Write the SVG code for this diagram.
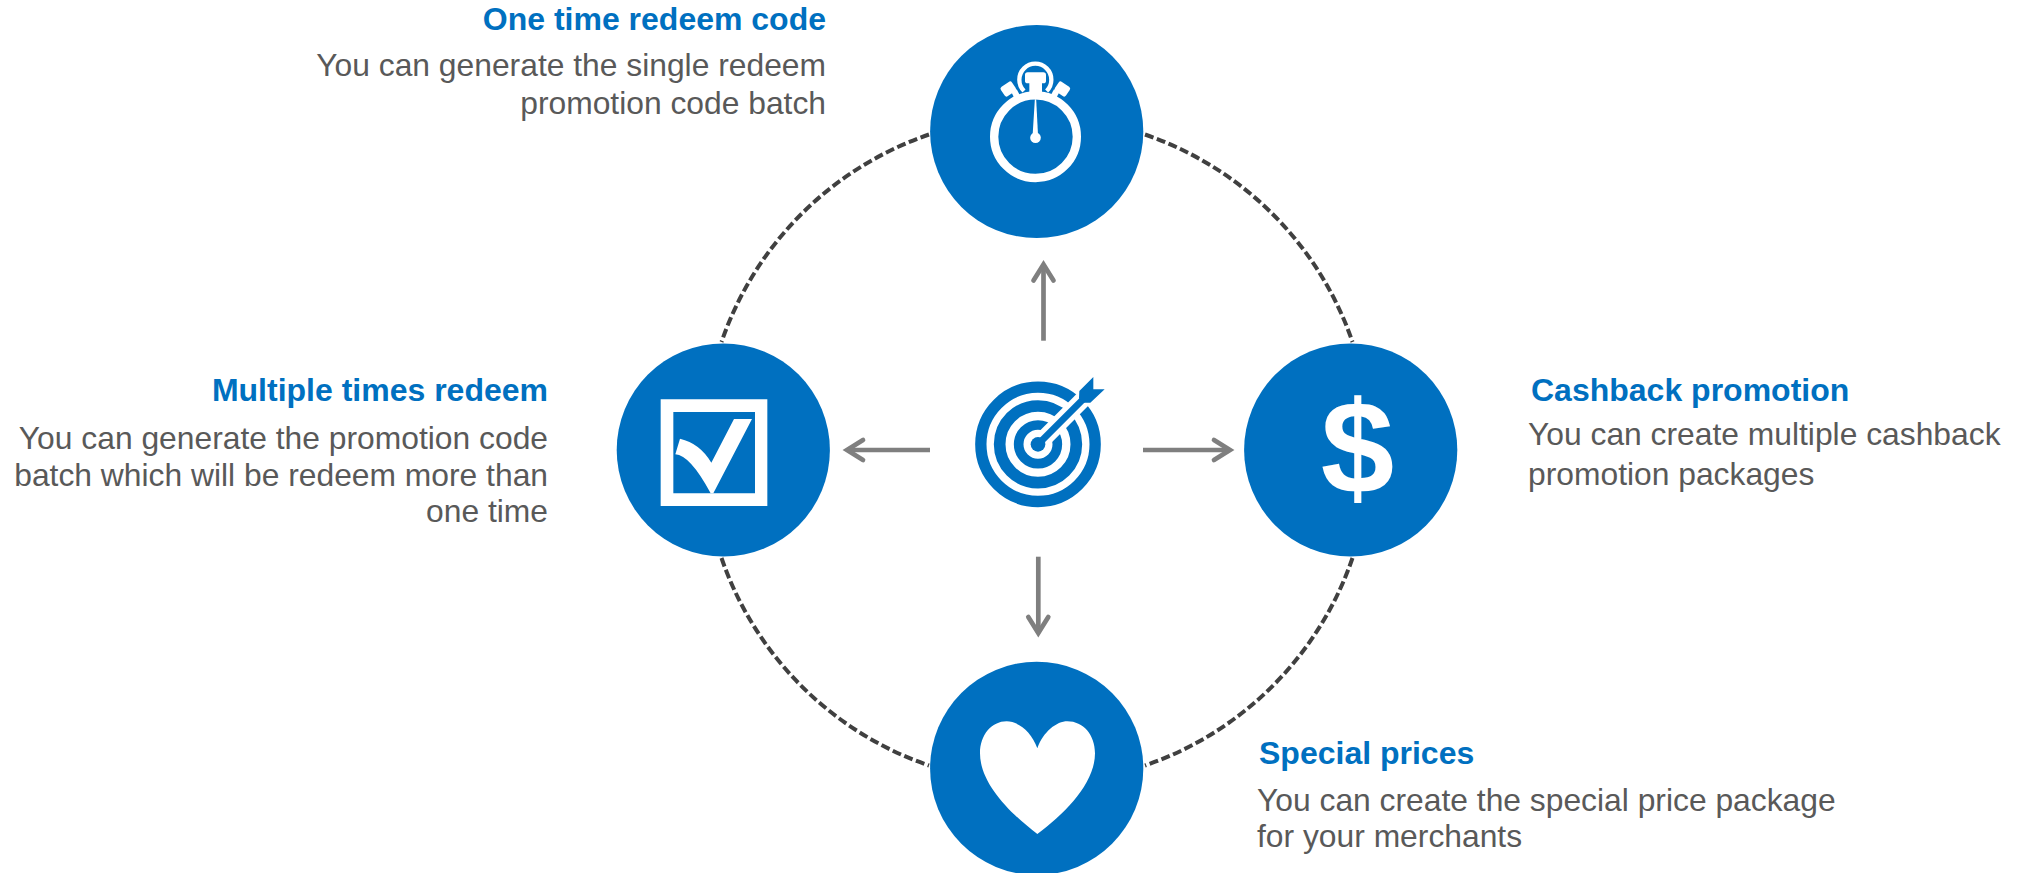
<svg xmlns="http://www.w3.org/2000/svg" width="2017" height="873" viewBox="0 0 2017 873">
<style>
.disc{fill:#0070c0}
.ico{fill:#fff}
.ring{fill:none;stroke:#404040;stroke-width:4;stroke-dasharray:9 3.6}
.arr{fill:none;stroke:#7f7f7f;stroke-width:4.7;marker-end:url(#head)}
.t{font-family:"Liberation Sans",Arial,sans-serif;font-size:31.8px}
.h{font-weight:700;fill:#0070c0;font-size:32px}
.b{fill:#595959}
.e{text-anchor:end}
</style>
<defs>
<marker id="head" markerUnits="userSpaceOnUse" orient="auto" overflow="visible" markerWidth="30" markerHeight="30" refX="0" refY="0">
<path d="M-16,-10 L0,0 L-16,10" fill="none" stroke="#7f7f7f" stroke-width="4.7" stroke-linecap="round" stroke-linejoin="miter"/>
</marker>
</defs>
<rect width="2017" height="873" fill="#fff"/>
<g id="connectors">
<path class="ring" d="M929,134.5A333.5,333.5 0 0 0 721.5,342"/>
<path class="ring" d="M1145,134.5A333.5,333.5 0 0 1 1352.5,342"/>
<path class="ring" d="M721.5,558A333.5,333.5 0 0 0 929,765.5"/>
<path class="ring" d="M1352.5,558A333.5,333.5 0 0 1 1145,765.5"/>
<path class="arr" d="M1043.5,340.7V264.5"/>
<path class="arr" d="M1143,450H1230"/>
<path class="arr" d="M930,450H847"/>
<path class="arr" d="M1038.3,556.7V633"/>
</g>
<g id="node-top">
<circle class="disc" cx="1036.7" cy="131.5" r="106.6"/>
<g transform="translate(900,0) scale(.33333)">
<circle cx="406.5" cy="410" r="124" fill="none" stroke="#fff" stroke-width="25"/>
<path d="M372,273A48,48 0 1 1 440,273" fill="none" stroke="#fff" stroke-width="13"/>
<path class="ico" d="M375,225Q375,217 383,217H430Q438,217 438,225V243Q438,250 430,250H426V285H388V250H383Q375,250 375,243Z"/>
<rect class="ico" x="-20" y="-17" width="40" height="34" rx="7" transform="translate(325,267) rotate(-34)"/>
<rect class="ico" x="-20" y="-17" width="40" height="34" rx="7" transform="translate(487,267) rotate(34)"/>
<path class="ico" d="M335,278L350,268L362,290L345,298Z"/>
<path class="ico" d="M477,278L462,268L450,290L467,298Z"/>
<path class="ico" d="M404.5,298H408.5L414,405H398Z"/>
<circle class="ico" cx="406.5" cy="413" r="16"/>
</g>
</g>
<g id="node-left">
<circle class="disc" cx="723.3" cy="450" r="106.6"/>
<g transform="translate(600,330) scale(.33333)">
<path class="ico" fill-rule="evenodd" d="M182,208H502V528H182ZM220,246V490H465V246Z"/>
<path class="ico" d="M240,326Q300,340 334,398L402,267H456L340,490H332Q270,375 226,373Z"/>
</g>
</g>
<g id="node-right">
<circle class="disc" cx="1350.7" cy="450" r="106.6"/>
<text x="1357.5" y="493" text-anchor="middle" font-family="'Liberation Sans',Arial,sans-serif" font-weight="700" font-size="132" fill="#fff">$</text>
</g>
<g id="node-bottom">
<circle class="disc" cx="1036.7" cy="768.4" r="106.6"/>
<g transform="translate(920,650) scale(.33333)">
<path class="ico" d="M352,295C335,245 295,214 260,214C215,214 180,255 180,310C180,400 270,490 352,552C435,490 525,400 525,310C525,255 490,214 442,214C410,214 370,245 352,295Z"/>
</g>
</g>
<g id="node-center">
<g transform="translate(820,330) scale(.33333)">
<g fill="none" stroke="#0070c0">
<circle cx="654" cy="343" r="171.5" stroke-width="34"/>
<circle cx="654" cy="343" r="115" stroke-width="35"/>
<circle cx="654" cy="343" r="58" stroke-width="29"/>
</g>
<path d="M654,343L800,197" stroke="#fff" stroke-width="50" fill="none"/>
<circle class="disc" cx="654" cy="343" r="22"/>
<path d="M654,343L795,202" stroke="#0070c0" stroke-width="20" fill="none"/>
<path class="disc" d="M778,183L820,141V178H854L811,218H790L777,205Z"/>
</g>
</g>
<g id="label-top">
<text class="t h e" x="826" y="30">One time redeem code</text>
<text class="t b e" x="826" y="76">You can generate the single redeem</text>
<text class="t b e" x="826" y="113.5">promotion code batch</text>
</g>
<g id="label-left">
<text class="t h e" x="548" y="401">Multiple times redeem</text>
<text class="t b e" x="548" y="449">You can generate the promotion code</text>
<text class="t b e" x="548" y="486">batch which will be redeem more than</text>
<text class="t b e" x="548" y="521.5">one time</text>
</g>
<g id="label-right">
<text class="t h" x="1531" y="401">Cashback promotion</text>
<text class="t b" x="1528" y="445">You can create multiple cashback</text>
<text class="t b" x="1528" y="485">promotion packages</text>
</g>
<g id="label-bottom">
<text class="t h" x="1259" y="764">Special prices</text>
<text class="t b" x="1257" y="811">You can create the special price package</text>
<text class="t b" x="1257" y="847">for your merchants</text>
</g>
</svg>
